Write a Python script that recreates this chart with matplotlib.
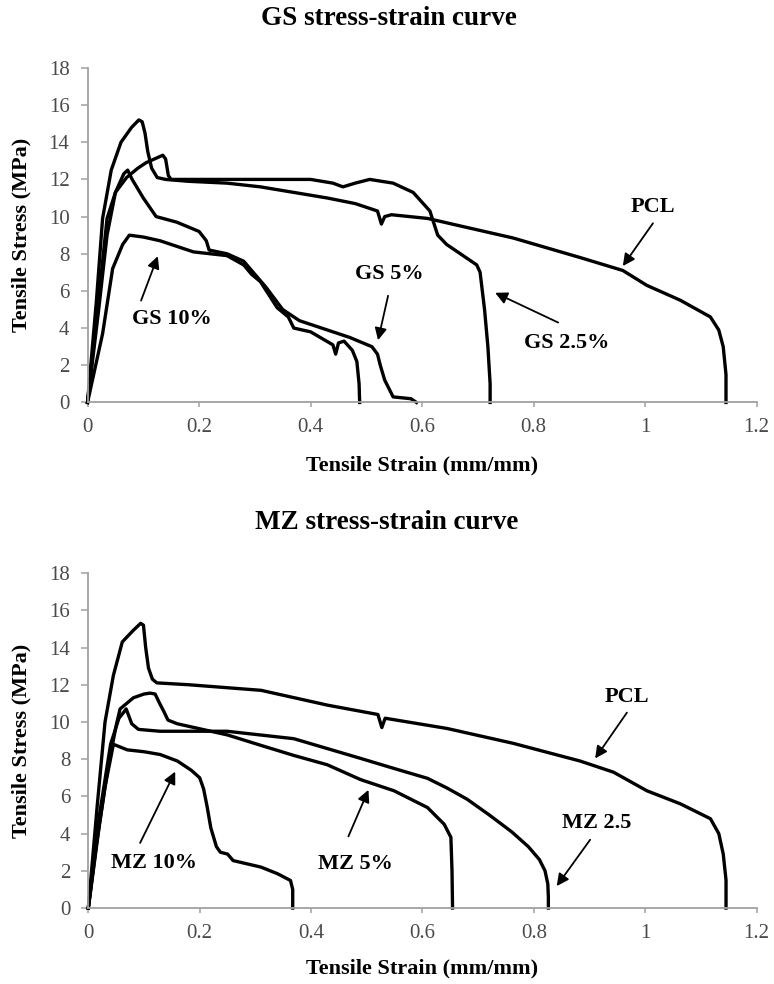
import numpy as np
import matplotlib
matplotlib.use("Agg")
import matplotlib.pyplot as plt
from matplotlib.ticker import FuncFormatter

# ---- GS panel (strain mm/mm, stress MPa) ----
gs_pcl_x = [0, 0.016, 0.027, 0.0425, 0.06, 0.079, 0.092, 0.098, 0.103, 0.108, 0.115, 0.125, 0.14,
            0.18, 0.25, 0.31, 0.37, 0.43, 0.48, 0.52, 0.527, 0.533, 0.545, 0.61, 0.668, 0.763,
            0.883, 0.96, 1.003, 1.063, 1.117, 1.132, 1.14, 1.145, 1.145]
gs_pcl_y = [0, 5.5, 9.9, 12.5, 14.0, 14.8, 15.2, 15.1, 14.5, 13.5, 12.6, 12.1, 12.0,
            11.9, 11.8, 11.6, 11.3, 11.0, 10.7, 10.3, 9.6, 10.0, 10.1, 9.9, 9.5, 8.85,
            7.8, 7.1, 6.3, 5.5, 4.6, 3.9, 3.0, 1.5, 0]

gs25_x = [0, 0.018, 0.035, 0.05, 0.07, 0.09, 0.105, 0.12, 0.135, 0.14, 0.145, 0.15, 0.2, 0.3, 0.4,
          0.44, 0.458, 0.48, 0.506, 0.548, 0.584, 0.614, 0.628, 0.644, 0.698, 0.704, 0.712, 0.718,
          0.722, 0.722]
gs25_y = [0, 5.0, 9.9, 11.3, 12.1, 12.6, 12.9, 13.1, 13.3, 13.1, 12.2, 12.0, 12.0, 12.0, 12.0,
          11.8, 11.6, 11.8, 12.0, 11.8, 11.3, 10.3, 9.0, 8.5, 7.4, 7.0, 5.0, 3.0,
          1.0, 0]

gs5_x = [0, 0.02, 0.035, 0.05, 0.065, 0.072, 0.08, 0.1, 0.123, 0.16, 0.2, 0.213, 0.218, 0.25,
         0.28, 0.3, 0.32, 0.35, 0.38, 0.42, 0.47, 0.51, 0.52, 0.525, 0.533, 0.548, 0.58, 0.59]
gs5_y = [0, 5.0, 9.0, 11.3, 12.3, 12.5, 12.0, 11.0, 10.0, 9.7, 9.2, 8.7, 8.2, 8.0,
         7.6, 6.9, 6.2, 5.0, 4.4, 4.0, 3.5, 3.0, 2.6, 2.0, 1.2, 0.3, 0.2, 0]

gs10_x = [0, 0.027, 0.045, 0.063, 0.075, 0.1, 0.13, 0.19, 0.25, 0.28, 0.294, 0.31, 0.34, 0.36,
          0.37, 0.4, 0.44, 0.445, 0.45, 0.46, 0.475, 0.483, 0.487, 0.488]
gs10_y = [0, 3.7, 7.2, 8.5, 9.0, 8.9, 8.7, 8.1, 7.9, 7.4, 6.9, 6.5, 5.1, 4.6,
          4.0, 3.8, 3.1, 2.6, 3.2, 3.3, 2.8, 2.2, 1.0, 0]

# ---- MZ panel ----
mz_pcl_x = [0, 0.016, 0.03, 0.045, 0.061, 0.08, 0.094, 0.099, 0.103, 0.108, 0.115, 0.123, 0.18,
            0.31, 0.43, 0.52, 0.527, 0.533, 0.644, 0.763, 0.883, 0.943, 1.003, 1.063, 1.117,
            1.132, 1.14, 1.145, 1.145]
mz_pcl_y = [0, 5.5, 10.0, 12.5, 14.3, 14.9, 15.3, 15.2, 14.0, 12.9, 12.3, 12.1, 12.0,
            11.7, 10.9, 10.4, 9.7, 10.2, 9.65, 8.85, 7.9, 7.3, 6.3, 5.6, 4.8,
            4.0, 2.9, 1.5, 0]

mz25_x = [0, 0.02, 0.04, 0.055, 0.063, 0.068, 0.073, 0.078, 0.09, 0.129, 0.249, 0.309, 0.369,
          0.429, 0.489, 0.549, 0.609, 0.644, 0.68, 0.72, 0.76, 0.79, 0.81, 0.82, 0.825, 0.826,
          0.826]
mz25_y = [0, 5.0, 8.8, 10.2, 10.5, 10.7, 10.3, 9.9, 9.6, 9.5, 9.5, 9.3, 9.1,
          8.57, 8.04, 7.5, 6.97, 6.45, 5.85, 5.0, 4.1, 3.3, 2.6, 2.0, 1.3, 0.6,
          0]

mz5_x = [0, 0.02, 0.035, 0.05, 0.057, 0.081, 0.1, 0.111, 0.12, 0.128, 0.135, 0.143, 0.16, 0.19,
         0.25, 0.309, 0.369, 0.429, 0.489, 0.549, 0.609, 0.639, 0.651, 0.653, 0.654]
mz5_y = [0, 4.5, 7.5, 9.8, 10.7, 11.3, 11.5, 11.55, 11.5, 11.0, 10.6, 10.1, 9.9, 9.7,
         9.3, 8.75, 8.2, 7.7, 6.9, 6.3, 5.4, 4.5, 3.8, 2.0, 0]

mz10_x = [0, 0.015, 0.03, 0.045, 0.07, 0.1, 0.129, 0.16, 0.17, 0.185, 0.2, 0.207, 0.213, 0.22,
          0.23, 0.237, 0.25, 0.26, 0.31, 0.34, 0.363, 0.367, 0.367]
mz10_y = [0, 3.5, 6.5, 8.8, 8.5, 8.4, 8.25, 7.9, 7.7, 7.4, 7.0, 6.4, 5.5, 4.3,
          3.3, 3.0, 2.9, 2.55, 2.2, 1.84, 1.48, 1.0, 0]

# labels: (text, text position, arrow tail, arrow tip)
gs_labels = [("PCL", (1.014, 10.5), (1.014, 9.64), (0.96, 7.34)),
             ("GS 2.5%", (0.86, 3.2), (0.844, 4.3), (0.731, 5.9)),
             ("GS 5%", (0.542, 6.9), (0.539, 5.74), (0.521, 3.35)),
             ("GS 10%", (0.152, 4.5), (0.096, 5.48), (0.126, 7.87))]
mz_labels = [("PCL", (0.967, 11.34), (0.967, 10.5), (0.91, 8.04)),
             ("MZ 2.5", (0.913, 4.56), (0.901, 3.67), (0.841, 1.18)),
             ("MZ 5%", (0.479, 2.34), (0.467, 3.85), (0.503, 6.35)),
             ("MZ 10%", (0.118, 2.4), (0.093, 3.5), (0.156, 7.33))]

x_ticks = [0, 0.2, 0.4, 0.6, 0.8, 1.0, 1.2]
y_ticks = [0, 2, 4, 6, 8, 10, 12, 14, 16, 18]

plt.rcParams['font.family'] = ['Liberation Serif', 'DejaVu Serif']

fig = plt.figure(figsize=(7.74, 9.84), dpi=100)
ax1 = fig.add_axes([0.1131, 0.591, 0.8645, 0.340])
ax2 = fig.add_axes([0.1141, 0.0772, 0.8635, 0.3404])

grey = '#a0a0a0'


def style_axis(ax, xlab_y, ylab_x):
    ax.set_xlim(0, 1.2)
    ax.set_ylim(0, 18)
    ax.set_xticks(x_ticks)
    ax.set_yticks(y_ticks)
    ax.xaxis.set_major_formatter(FuncFormatter(lambda v, p: f"{v:g}"))
    for s in ['top', 'right']:
        ax.spines[s].set_visible(False)
    for s in ['left', 'bottom']:
        ax.spines[s].set_color(grey)
        ax.spines[s].set_linewidth(1.3)
    ax.tick_params(axis='y', direction='out', length=5, width=1.1, color=grey,
                   labelsize=15, labelcolor='#4a4a4a', pad=8)
    ax.tick_params(axis='x', direction='out', length=3.5, width=1.1, color=grey,
                   labelsize=15, labelcolor='#4a4a4a', pad=8)
    ax.set_xlabel("Tensile Strain (mm/mm)", fontsize=16, fontweight='bold', va='center')
    ax.set_ylabel("Tensile Stress (MPa)", fontsize=16, fontweight='bold', va='center')
    ax.xaxis.set_label_coords(0.5, xlab_y)
    ax.yaxis.set_label_coords(ylab_x, 0.5)


def add_labels(ax, labels):
    for txt, pos, tail, tip in labels:
        ax.text(pos[0], pos[1], txt, fontsize=16, fontweight='bold', ha='center', va='center')
        ax.annotate('', xy=tip, xytext=tail,
                    arrowprops=dict(arrowstyle='-|>', color='black', lw=1.3, mutation_scale=18,
                                    shrinkA=0, shrinkB=0))


lw = 2.4
for xs, ys in [(gs_pcl_x, gs_pcl_y), (gs25_x, gs25_y), (gs5_x, gs5_y), (gs10_x, gs10_y)]:
    ax1.plot(xs, ys, color='black', lw=lw, solid_joinstyle='round', clip_on=False)
for xs, ys in [(mz_pcl_x, mz_pcl_y), (mz25_x, mz25_y), (mz5_x, mz5_y), (mz10_x, mz10_y)]:
    ax2.plot(xs, ys, color='black', lw=lw, solid_joinstyle='round', clip_on=False)

style_axis(ax1, -0.187, -0.098)
style_axis(ax2, -0.179, -0.0996)
add_labels(ax1, gs_labels)
add_labels(ax2, mz_labels)

fig.text(0.502, 0.9817, "GS stress-strain curve", fontsize=19.5, fontweight='bold',
         ha='center', va='center')
fig.text(0.5, 0.4685, "MZ stress-strain curve", fontsize=19.5, fontweight='bold',
         ha='center', va='center')

fig.savefig("out.png", dpi=100)
